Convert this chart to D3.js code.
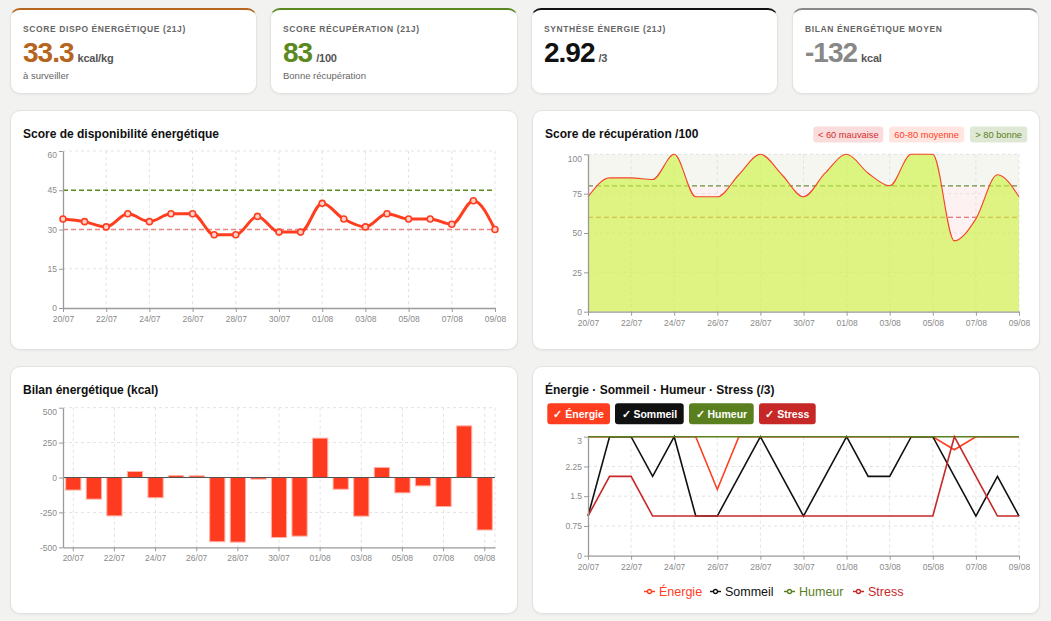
<!DOCTYPE html>
<html><head><meta charset="utf-8">
<script src="https://cdn.jsdelivr.net/npm/d3@7"></script>
<style>
body{margin:0;background:#f2f2f0;width:1051px;height:621px;overflow:hidden;font-family:"Liberation Sans",Arial,Helvetica,sans-serif;}
.card{position:absolute;background:#fff;border:1px solid #e3e3e1;border-radius:10px;box-shadow:0 1px 2px rgba(0,0,0,0.05);box-sizing:border-box;}
svg{position:absolute;left:0;top:0;}
</style></head><body>
<div id="cards"></div>
<svg id="main" width="1051" height="621"></svg>
<script>
// ---------- DATA ----------
const dates = ["20/07","21/07","22/07","23/07","24/07","25/07","26/07","27/07","28/07","29/07","30/07","31/07",
  "01/08","02/08","03/08","04/08","05/08","06/08","07/08","08/08","09/08"];
const tickDates = ["20/07","22/07","24/07","26/07","28/07","30/07","01/08","03/08","05/08","07/08","09/08"];

const dispoValues = [34,33,31,36,33,36,36,28,28,35,29,29,40,34,31,36,34,34,32,41,30];
const dispoTicks = [0,15,30,45,60];
const dispoRefs = [45,30];

const recupValues = [73,85,85,84,100,73,73,87,100,87,73,88,100,88,80,100,100,45,59,87,73];
const recupTicks = [0,25,50,75,100];
const recupBands = [[80,100],[60,80],[0,60]];
const recupRefs = [80,60];
const recupBadges = ["< 60 mauvaise","60-80 moyenne","> 80 bonne"];

const bilanValues = [-90,-155,-275,43,-145,14,12,-460,-463,-12,-430,-420,282,-84,-277,72,-110,-60,-208,370,-376];
const bilanTicks = [-500,-250,0,250,500];

const energieValues = [3,3,3,3,3,3,1.67,3,3,3,3,3,3,3,3,3,3,2.67,3,3,3];
const sommeilValues = [1,3,3,2,3,1,1,2,3,2,1,2,3,2,2,3,3,2,1,2,1];
const humeurValues  = [3,3,3,3,3,3,3,3,3,3,3,3,3,3,3,3,3,3,3,3,3];
const stressValues  = [1,2,2,1,1,1,1,1,1,1,1,1,1,1,1,1,1,3,2,1,1];
const scoreTicks = [0,0.75,1.5,2.25,3];
const seriesNames = ["Énergie","Sommeil","Humeur","Stress"];

const kpiLabels = ["SCORE DISPO ÉNERGÉTIQUE (21J)","SCORE RÉCUPÉRATION (21J)","SYNTHÈSE ÉNERGIE (21J)","BILAN ÉNERGÉTIQUE MOYEN"];
const kpiValues = ["33.3","83","2.92","-132"];
const kpiUnits = ["kcal/kg","/100","/3","kcal"];
const kpiSubs = ["à surveiller","Bonne récupération","",""];

// ---------- STYLE ----------
const C = {orange:"#ff3d1f", black:"#111", green:"#5a7f1e", red:"#c62828"};
const kpiColors = ["#b5651d","#5a8a1f","#111111","#888888"];
const seriesColors = [C.orange, C.black, C.green, C.red];
const FONT = '"Liberation Sans",Arial,Helvetica,sans-serif';

// ---------- CARDS ----------
const kpiBoxes = [{x:10,w:247},{x:270,w:248},{x:531,w:247},{x:792,w:247}];
const chartBoxes = [{x:10,y:110,w:508,h:240},{x:532,y:110,w:508,h:240},{x:10,y:366,w:508,h:248},{x:532,y:366,w:508,h:248}];
const cards = d3.select("#cards");
kpiBoxes.forEach((b,i)=>{
  cards.append("div").attr("class","card")
    .style("left",b.x+"px").style("top","8px").style("width",b.w+"px").style("height","86px")
    .style("border-top","2px solid "+kpiColors[i]);
});
chartBoxes.forEach(b=>{
  cards.append("div").attr("class","card")
    .style("left",b.x+"px").style("top",b.y+"px").style("width",b.w+"px").style("height",b.h+"px");
});

const svg = d3.select("#main").style("font-family",FONT);

// KPI texts
kpiBoxes.forEach((b,i)=>{
  const g = svg.append("g");
  g.append("text").attr("x",b.x+13).attr("y",31.5).attr("font-size",8.5).attr("font-weight","bold")
    .attr("letter-spacing","0.6px").attr("fill","#666").text(kpiLabels[i]);
  const t = g.append("text").attr("x",b.x+13).attr("y",61.5);
  t.append("tspan").attr("font-size",28).attr("font-weight","bold").attr("letter-spacing","-1px")
    .attr("fill",kpiColors[i]).text(kpiValues[i]);
  t.append("tspan").attr("dx",4).attr("font-size",11).attr("font-weight","bold").attr("fill","#555")
    .attr("letter-spacing","-0.2px").text(kpiUnits[i]);
  if(kpiSubs[i]) g.append("text").attr("x",b.x+13).attr("y",78.5).attr("font-size",9.5).attr("fill","#666").text(kpiSubs[i]);
});

// titles
const titles = ["Score de disponibilité énergétique","Score de récupération /100","Bilan énergétique (kcal)","Énergie · Sommeil · Humeur · Stress (/3)"];
chartBoxes.forEach((b,i)=>{
  svg.append("text").attr("x",b.x+13).attr("y",b.y+27.5).attr("font-size",12).attr("font-weight","bold")
    .attr("fill","#111").text(titles[i]);
});

// helpers
function styleAxis(g, isY){
  g.selectAll(".domain").attr("stroke","#9a9a9a").attr("stroke-width",1.3);
  g.selectAll(".tick line").attr("stroke","#9a9a9a");
  g.selectAll(".tick text").attr("fill","#8a8a8a").attr("font-size",8.5).attr("font-family",FONT);
  if(isY){
    const texts = g.selectAll(".tick text").nodes();
    // top label sits just below its tick, as in the reference
    let top = texts[0], minY = Infinity;
    g.selectAll(".tick").each(function(){
      const tr = this.getAttribute("transform"); const m = /,([-\d.]+)\)/.exec(tr);
      const yy = m ? +m[1] : 0;
      if(yy < minY){ minY = yy; top = d3.select(this).select("text").node(); }
    });
    d3.select(top).attr("dy","0.8em");
  }
}
function hGrid(g, y, ticks, x0, x1){
  g.selectAll(null).data(ticks).join("line")
    .attr("x1",x0).attr("x2",x1).attr("y1",d=>y(d)).attr("y2",d=>y(d))
    .attr("stroke","#e2e2e2").attr("stroke-dasharray","3,3");
}
function vGrid(g, xs, y0, y1){
  g.selectAll(null).data(xs).join("line")
    .attr("x1",d=>d).attr("x2",d=>d).attr("y1",y0).attr("y2",y1)
    .attr("stroke","#e2e2e2").attr("stroke-dasharray","3,3");
}

// ---------- CHART 1 ----------
{
  const x = d3.scalePoint().domain(dates).range([63,495]);
  const y = d3.scaleLinear().domain([0,60]).range([308,151]);
  const g = svg.append("g");
  hGrid(g,y,dispoTicks.filter(d=>d>0 && !dispoRefs.includes(d)),63,495);
  vGrid(g,tickDates.slice(1).map(d=>x(d)),151,308);
  g.selectAll(null).data(dispoRefs).join("line")
    .attr("x1",63).attr("x2",495).attr("y1",d=>y(d)).attr("y2",d=>y(d))
    .attr("stroke",(d,i)=>i===0?"#5a8a1f":"#e88585").attr("stroke-width",1.3).attr("stroke-dasharray","5,3");
  const ax = g.append("g").attr("transform","translate(0,308)")
    .call(d3.axisBottom(x).tickValues(tickDates).tickSize(4).tickSizeOuter(0).tickPadding(4));
  styleAxis(ax);
  const ay = g.append("g").attr("transform","translate(63,0)")
    .call(d3.axisLeft(y).tickValues(dispoTicks).tickFormat(d=>String(d)).tickSize(4).tickSizeOuter(0).tickPadding(2));
  styleAxis(ay,true);
  const line = d3.line().x((d,i)=>x(dates[i])).y(d=>y(d)).curve(d3.curveMonotoneX);
  g.append("path").datum(dispoValues).attr("d",line).attr("fill","none").attr("stroke",C.orange).attr("stroke-width",3);
  g.selectAll(null).data(dispoValues).join("circle")
    .attr("cx",(d,i)=>x(dates[i])).attr("cy",d=>y(d)).attr("r",3)
    .attr("fill","#ffd3ca").attr("stroke",C.orange).attr("stroke-width",1.6);
}

// ---------- CHART 2 ----------
{
  const x = d3.scalePoint().domain(dates).range([588,1019]);
  const y = d3.scaleLinear().domain([0,100]).range([311.7,154.3]);
  const g = svg.append("g");
  const bandFill = ["#f4f6ef","#fdf1f1","#fdf1f1"];
  g.selectAll(null).data(recupBands).join("rect")
    .attr("x",588).attr("width",431).attr("y",d=>y(d[1])).attr("height",d=>y(d[0])-y(d[1]))
    .attr("fill",(d,i)=>bandFill[i]);
  hGrid(g,y,recupTicks.filter(d=>d>0),588,1019);
  vGrid(g,tickDates.slice(1).map(d=>x(d)),154.3,311.7);
  g.selectAll(null).data(recupRefs).join("line")
    .attr("x1",588).attr("x2",1019).attr("y1",d=>y(d)).attr("y2",d=>y(d))
    .attr("stroke",(d,i)=>i===0?"#6f8f3f":"#dd5555").attr("stroke-width",1.2).attr("stroke-dasharray","5,3");
  const area = d3.area().x((d,i)=>x(dates[i])).y0(y(0)).y1(d=>y(d)).curve(d3.curveMonotoneX);
  g.append("path").datum(recupValues).attr("d",area).attr("fill","rgba(203,244,60,0.62)");
  const line = d3.line().x((d,i)=>x(dates[i])).y(d=>y(d)).curve(d3.curveMonotoneX);
  g.append("path").datum(recupValues).attr("d",line).attr("fill","none").attr("stroke","#f5442a").attr("stroke-width",1.1);
  const ax = g.append("g").attr("transform","translate(0,311.7)")
    .call(d3.axisBottom(x).tickValues(tickDates).tickSize(4).tickSizeOuter(0).tickPadding(4));
  styleAxis(ax);
  const ay = g.append("g").attr("transform","translate(588,0)")
    .call(d3.axisLeft(y).tickValues(recupTicks).tickFormat(d=>String(d)).tickSize(4).tickSizeOuter(0).tickPadding(2));
  styleAxis(ay,true);
  // badges
  const badgeX = [813.3,889,970], badgeW = [70,75.3,57.3];
  const badgeBg = ["#fadcdc","#ffe6e1","#dfe8d4"], badgeFg = ["#d32f2f","#ff3d1f","#5a7f1e"];
  recupBadges.forEach((t,i)=>{
    g.append("rect").attr("x",badgeX[i]).attr("y",126.5).attr("width",badgeW[i]).attr("height",16).attr("rx",3).attr("fill",badgeBg[i]);
    g.append("text").attr("x",badgeX[i]+badgeW[i]/2).attr("y",137.6).attr("text-anchor","middle")
      .attr("font-size",9.3).attr("fill",badgeFg[i]).attr("font-weight","500").text(t);
  });
}

// ---------- CHART 3 ----------
{
  const x = d3.scaleBand().domain(dates).range([63,495]).padding(0);
  const y = d3.scaleLinear().domain([-500,500]).range([547.3,407.7]);
  const g = svg.append("g");
  hGrid(g,y,bilanTicks.filter(d=>d!==-500 && d!==0),63,495);
  vGrid(g,tickDates.map(d=>x(d)+x.bandwidth()/2).concat([495]),407.7,547.3);
  const bw = x.bandwidth()*0.74;
  g.selectAll(null).data(bilanValues).join("rect")
    .attr("x",(d,i)=>x(dates[i])+(x.bandwidth()-bw)/2).attr("width",bw)
    .attr("y",d=>y(Math.max(0,d))).attr("height",d=>Math.abs(y(d)-y(0)))
    .attr("fill","#ff3b1f").attr("stroke","#ffb3a7").attr("stroke-width",1);
  g.append("line").attr("x1",63).attr("x2",495).attr("y1",y(0)).attr("y2",y(0)).attr("stroke","#555").attr("stroke-width",1.2);
  const ax = g.append("g").attr("transform","translate(0,547.3)")
    .call(d3.axisBottom(x).tickValues(tickDates).tickSize(4).tickSizeOuter(0).tickPadding(4));
  styleAxis(ax);
  const ay = g.append("g").attr("transform","translate(63,0)")
    .call(d3.axisLeft(y).tickValues(bilanTicks).tickFormat(d=>String(d)).tickSize(4).tickSizeOuter(0).tickPadding(2));
  styleAxis(ay,true);
}

// ---------- CHART 4 ----------
{
  const x = d3.scalePoint().domain(dates).range([588,1019]);
  const y = d3.scaleLinear().domain([0,3]).range([555.7,436.7]);
  const g = svg.append("g");
  hGrid(g,y,scoreTicks.filter(d=>d>0),588,1019);
  vGrid(g,tickDates.slice(1).map(d=>x(d)),436.7,555.7);
  const series = [energieValues,sommeilValues,humeurValues,stressValues];
  const line = d3.line().x((d,i)=>x(dates[i])).y(d=>y(d));
  g.selectAll(null).data(series).join("path")
    .attr("d",line).attr("fill","none").attr("stroke",(d,i)=>seriesColors[i]).attr("stroke-width",1.6);
  const ax = g.append("g").attr("transform","translate(0,555.7)")
    .call(d3.axisBottom(x).tickValues(tickDates).tickSize(4).tickSizeOuter(0).tickPadding(4));
  styleAxis(ax);
  const ay = g.append("g").attr("transform","translate(588,0)")
    .call(d3.axisLeft(y).tickValues(scoreTicks).tickFormat(d=>String(d)).tickSize(4).tickSizeOuter(0).tickPadding(2));
  styleAxis(ay,true);
  // toggle buttons
  const btnX = [547.3,615,689,759], btnW = [62.7,68.7,64.7,56.7];
  seriesNames.forEach((n,i)=>{
    g.append("rect").attr("x",btnX[i]).attr("y",403.3).attr("width",btnW[i]).attr("height",21).attr("rx",3).attr("fill",seriesColors[i]);
    g.append("text").attr("x",btnX[i]+btnW[i]/2).attr("y",417.6).attr("text-anchor","middle")
      .attr("font-size",10.5).attr("font-weight","bold").attr("fill","#fff").text("✓ "+n);
  });
  // legend
  const legX = [644,710,784,853];
  seriesNames.forEach((n,i)=>{
    g.append("line").attr("x1",legX[i]).attr("x2",legX[i]+11).attr("y1",591.5).attr("y2",591.5).attr("stroke",seriesColors[i]).attr("stroke-width",1.5);
    g.append("circle").attr("cx",legX[i]+5.5).attr("cy",591.5).attr("r",2).attr("fill","#fff").attr("stroke",seriesColors[i]).attr("stroke-width",1.3);
    g.append("text").attr("x",legX[i]+15).attr("y",596).attr("font-size",12.5).attr("fill",seriesColors[i]).text(n);
  });
}
</script></body></html>
